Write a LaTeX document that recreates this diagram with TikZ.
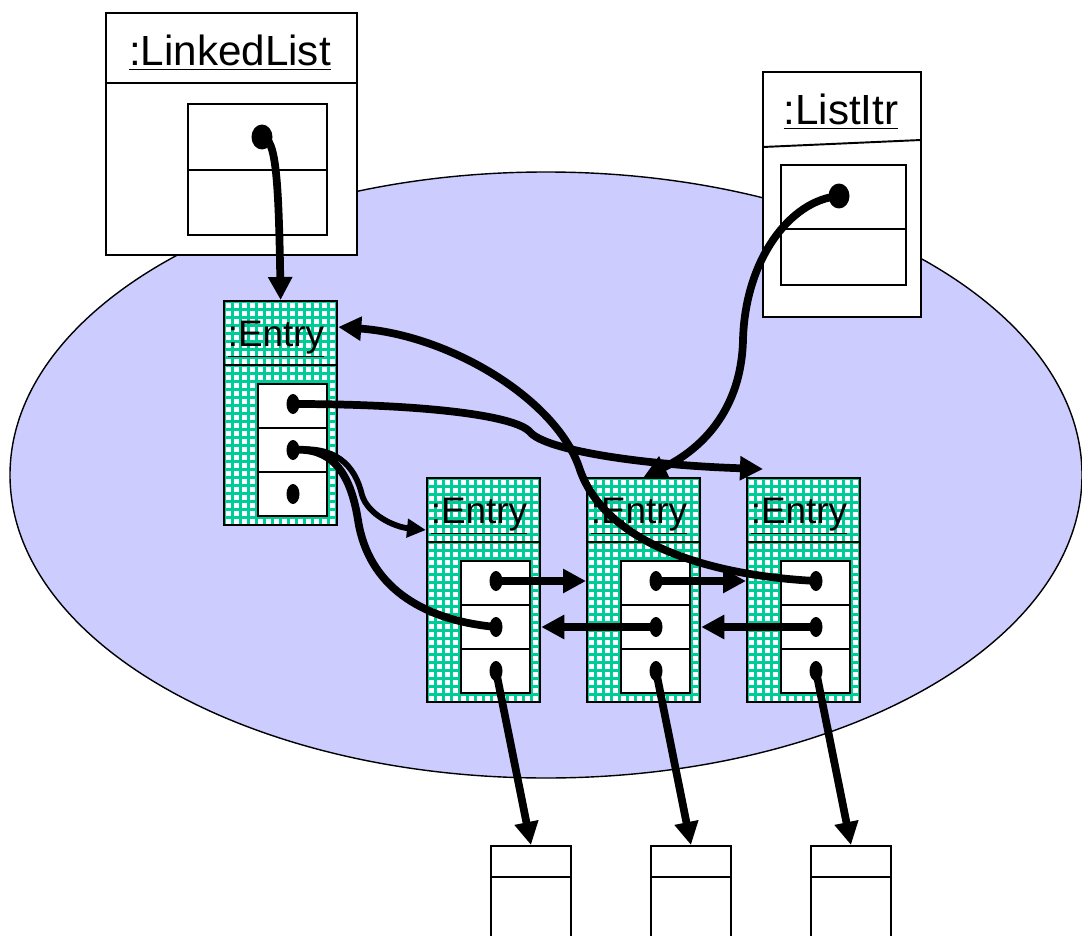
\documentclass[tikz,border=0pt]{standalone}
\usepackage{fontspec}
\setmainfont{Liberation Sans}
\usetikzlibrary{arrows.meta,shapes.geometric,calc}
\definecolor{cloud}{RGB}{204,204,255}
\definecolor{mesh}{RGB}{0,204,153}

\begin{document}
\begin{tikzpicture}[x=0.02cm, y=-0.02cm, line width=1.1pt,
  dot/.style={ellipse, fill=black, inner sep=0pt, minimum width=0.26cm, minimum height=0.4cm},
  bigdot/.style={dot, minimum width=0.42cm, minimum height=0.5cm},
  ptr/.style={line width=4.4pt, -{Triangle[length=0.46cm, width=0.46cm]}},
  link/.style={line width=4.4pt},
  thinptr/.style={line width=3.3pt, -{Triangle[length=0.38cm, width=0.36cm]}},
  entrybox/.style={draw, fill=white, line width=1.3pt, anchor=north west,
    minimum width=2.26cm, minimum height=4.48cm, inner sep=0pt,
    path picture={\draw[mesh, line width=1.7pt, step=0.16cm]
      (path picture bounding box.south west) grid (path picture bounding box.north east);}},
  title/.style={anchor=base, font=\fontsize{24}{28}\selectfont}]
  \useasboundingbox (0,0) rectangle (1082,936);

  % the heap
  \draw[fill=cloud, line width=0.8pt] (546,475) ellipse [x radius=536, y radius=303];

  % list object
  \draw[fill=white] (106,13) rectangle (357,255);
  \draw (106,83) -- (357,83);
  \node[title] (llname) at (230,66) {\underline{:LinkedList}};
  \draw[fill=white] (188,104) rectangle (327,235);
  \draw (188,170) -- (327,170);
  \node[bigdot] (ll) at (262,137) {};

  % iterator object
  \draw[fill=white] (763,72) rectangle (921,317);
  \draw (763,147) -- (921,140);
  \node[title] (liname) at (841,125) {\underline{:ListItr}};
  \draw[fill=white] (781,165) rectangle (906,285);
  \draw (781,229) -- (906,229);
  \node[bigdot] (li) at (839,196) {};

  % entries
  \foreach \n/\x/\y in {1/223/300, 2/426/477, 3/586/477, 4/746/477} {
    \node[entrybox] (E\n) at (\x,\y) {};
    \draw (\x,\y+65) -- +(113,0);
    \node[title, font=\fontsize{21}{25}\selectfont] (T\n) at (\x+53,\y+46) {\underline{:Entry}};
    \draw[fill=white] (\x+35,\y+84) rectangle +(69,132);
    \draw (\x+35,\y+128) -- +(69,0) (\x+35,\y+172) -- +(69,0);
    \node[dot] (nx\n) at (\x+70,\y+104) {};
    \node[dot] (pv\n) at (\x+70,\y+150) {};
    \node[dot] (el\n) at (\x+70,\y+194) {};
  }

  % elements
  \foreach \n/\x in {2/490, 3/650, 4/810} {
    \node[draw, fill=white, anchor=north west, minimum width=1.6cm,
      minimum height=2.4cm, inner sep=0pt] (B\n) at (\x,845) {};
    \draw (\x,877) -- +(80,0);
  }

  % pointers
  \draw[ptr] (ll.center) .. controls +(14,0) and +(-2,-120) .. (E1.north);
  \draw[ptr] (li.center) .. controls (790,200) and (745,260) .. (743,340)
    .. controls (741,420) and (690,455) .. (E3.north);
  \draw[ptr] (nx4.center) .. controls (700,575) and (605,540) .. (580,470)
    .. controls (558,400) and (450,335) .. ($(E1.north east)+(0,27)$);
  \draw[ptr] (nx1.center) .. controls (420,404) and (515,415) .. (530,432)
    .. controls (545,450) and (640,465) .. ($(E4.north west)+(17,-8)$);
  \draw[thinptr] (pv1.center) .. controls (335,445) and (355,465) .. (362,495)
    .. controls (368,515) and (395,527) .. ($(E2.north west)+(0,53)$);
  \draw[link] (pv1.center) .. controls (330,447) and (350,470) .. (358,520)
    .. controls (368,585) and (420,620) .. (pv2.center);
  \draw[ptr] (nx2.center) -- (nx2 -| E3.west);
  \draw[ptr] (nx3.center) -- (nx3 -| E4.west);
  \draw[ptr] (pv3.center) -- (pv3 -| E2.east);
  \draw[ptr] (pv4.center) -- (pv4 -| E3.east);
  \foreach \n in {2,3,4} \draw[ptr] (el\n.center) -- (B\n.north);
\end{tikzpicture}
\end{document}
